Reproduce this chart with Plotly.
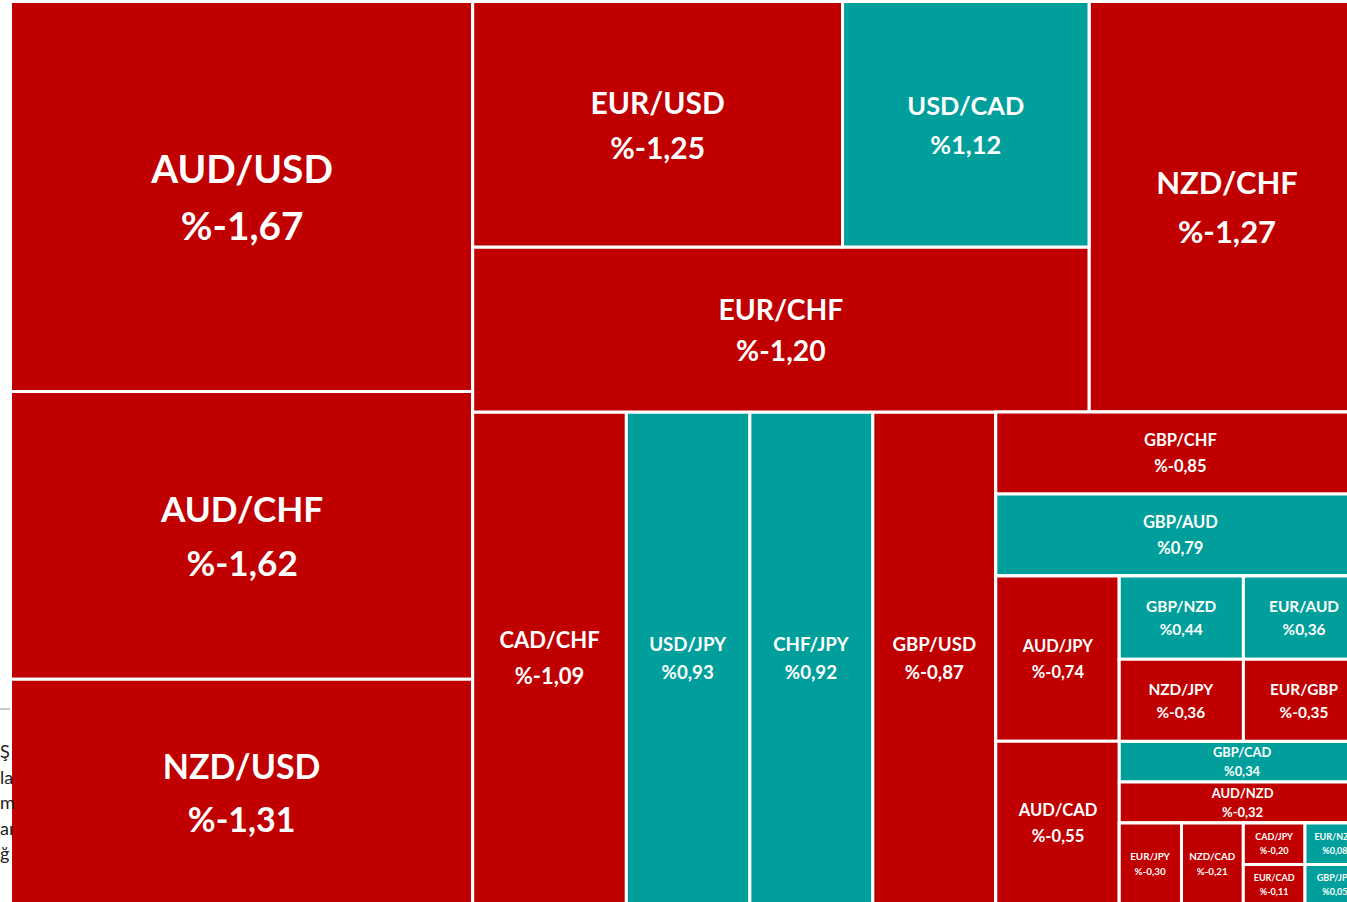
import plotly.graph_objects as go

# ---- data ----
pairs = ["AUD/USD", "AUD/CHF", "NZD/USD", "EUR/USD", "USD/CAD", "EUR/CHF", "NZD/CHF",
         "CAD/CHF", "USD/JPY", "CHF/JPY", "GBP/USD", "GBP/CHF", "GBP/AUD",
         "AUD/JPY", "AUD/CAD", "GBP/NZD", "EUR/AUD", "NZD/JPY", "EUR/GBP",
         "GBP/CAD", "AUD/NZD", "EUR/JPY", "NZD/CAD", "CAD/JPY", "EUR/CAD",
         "EUR/NZD", "GBP/JPY"]
changes = [-1.67, -1.62, -1.31, -1.25, 1.12, -1.20, -1.27,
           -1.09, 0.93, 0.92, -0.87, -0.85, 0.79,
           -0.74, -0.55, 0.44, 0.36, -0.36, -0.35,
           0.34, -0.32, -0.30, -0.21, -0.20, -0.11,
           0.08, 0.05]
# tile sizes (relative areas)
sizes = [1803, 1330, 1039, 908, 605, 1017, 1133,
         756, 608, 605, 605, 303, 303,
         204, 201, 103.4, 101.3, 101.8, 99.7,
         100.0, 100.7, 50.4, 50.1, 25.6, 24.3,
         24.9, 23.7]
# glyph size and line-spacing base size of each tile label
label_sizes = [38.8, 35.2, 34, 30, 25.4, 28.3, 31,
               22, 18.7, 18.7, 18.7, 16.5, 16.5,
               16.5, 16.6, 15.4, 15.4, 15.4, 15.4,
               13, 13, 9.8, 9.8, 9, 9,
               9, 9]
line_sizes = [43.8, 41.5, 40.8, 34.6, 30, 31.5, 37.7,
              27.7, 21.5, 21.5, 21.5, 20, 20,
              20, 20, 17.7, 17.7, 17.7, 17.7,
              14.6, 14.6, 11.5, 11.5, 10.8, 10.8,
              10.8, 10.8]

# tile grouping (invisible groups reproduce the reference arrangement)
node_ids = ["root", "gA", "AUD/USD", "AUD/CHF", "NZD/USD",
            "gB", "gTop", "gTL", "gRow1", "EUR/USD", "USD/CAD", "EUR/CHF", "NZD/CHF",
            "gBot", "CAD/CHF", "USD/JPY", "CHF/JPY", "GBP/USD",
            "gR", "GBP/CHF", "GBP/AUD", "gLow", "gAudCol", "AUD/JPY", "AUD/CAD",
            "gRt", "gR1", "GBP/NZD", "EUR/AUD", "gR2", "NZD/JPY", "EUR/GBP",
            "GBP/CAD", "AUD/NZD", "gR5", "EUR/JPY", "NZD/CAD",
            "gC3", "CAD/JPY", "EUR/CAD", "gC4", "EUR/NZD", "GBP/JPY"]
node_parents = ["", "root", "gA", "gA", "gA",
                "root", "gB", "gTop", "gTL", "gRow1", "gRow1", "gTL", "gTop",
                "gB", "gBot", "gBot", "gBot", "gBot",
                "gBot", "gR", "gR", "gR", "gLow", "gAudCol", "gAudCol",
                "gLow", "gRt", "gR1", "gR1", "gRt", "gR2", "gR2",
                "gRt", "gRt", "gRt", "gR5", "gR5",
                "gR5", "gC3", "gC3", "gR5", "gC4", "gC4"]

RED = "#C00000"
TEAL = "#009F9C"

idx = {p: i for i, p in enumerate(pairs)}
values, texts, colors, fsizes = [], [], [], []
for nid in node_ids:
    if nid in idx:
        i = idx[nid]
        values.append(sizes[i])
        chg = ("%.2f" % changes[i]).replace(".", ",")
        g = label_sizes[i]
        texts.append(f"<span style='font-size:{g}px'>{nid}</span><br>"
                     f"<span style='font-size:{g}px'>%{chg}</span>")
        colors.append(RED if changes[i] < 0 else TEAL)
        fsizes.append(line_sizes[i])
    else:
        values.append(0)
        texts.append("")
        colors.append(RED)
        fsizes.append(10)

W, H = 1366, 906
fig = go.Figure(go.Treemap(
    ids=node_ids,
    labels=node_ids,
    parents=node_parents,
    values=values,
    branchvalues="remainder",
    sort=False,
    text=texts,
    textinfo="text",
    textposition="middle center",
    textfont=dict(family="Lato", size=fsizes, color="white", weight="bold"),
    marker=dict(colors=colors, line=dict(color="white", width=3),
                pad=dict(t=0, l=0, r=0, b=0), depthfade=False),
    tiling=dict(packing="slice-dice", pad=0),
    pathbar=dict(visible=False),
    hoverinfo="skip",
    domain=dict(x=[10.5 / W, 1365 / W], y=[1 - 904 / H, 1 - 1.5 / H]),
))

# partial text of a neighbouring page element visible at the far left
frag = ["Ş", "la", "m", "aı", "ğ"]
frag_y = [751, 777, 802, 828, 853]
for t, py in zip(frag, frag_y):
    fig.add_annotation(text=t, xref="paper", yref="paper", x=0, y=1 - py / H,
                       xanchor="left", yanchor="middle", showarrow=False,
                       xshift=-2,
                       font=dict(family="Lato", size=18, color="#222222"))
fig.add_shape(type="line", xref="paper", yref="paper", x0=0, x1=10 / W,
              y0=1 - 709 / H, y1=1 - 709 / H, line=dict(color="#C8C8C8", width=2))

fig.update_layout(width=W, height=H, autosize=False,
                  margin=dict(l=0, r=0, t=0, b=0),
                  paper_bgcolor="white", plot_bgcolor="white")

fig.write_html("out.html", config={"displayModeBar": False}, post_script=(
    "document.body.style.margin='0';"
    "document.body.style.overflow='hidden';"
    "document.documentElement.style.overflow='hidden';"))
